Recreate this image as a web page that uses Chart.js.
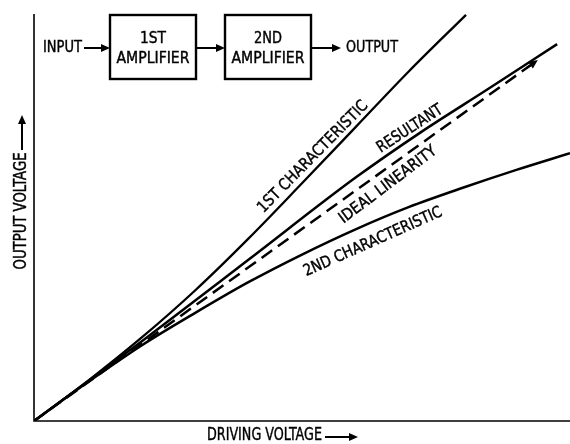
<!DOCTYPE html>
<html>
<head>
<meta charset="utf-8">
<script src="https://cdn.jsdelivr.net/npm/chart.js@4.4.1/dist/chart.umd.min.js"></script>
<style>
  html, body { margin: 0; padding: 0; background: #fff; }
  #wrap { width: 570px; height: 444px; }
</style>
</head>
<body>
<div id="wrap"><canvas id="grafico" width="570" height="444"></canvas></div>
<script>
// driving voltage and output voltage, both in % of full scale
const x1st = [0, 10, 20, 30, 40, 50, 60, 70, 80.6];
const y1st = [0, 9.8, 20.4, 32.0, 44.8, 58.4, 72.2, 86.0, 99.8];

const xResult = [0, 20, 40, 60, 72, 85, 97.6];
const yResult = [0, 19.5, 39.6, 59.8, 70.8, 81.8, 92.6];

const xIdeal = [0, 94.0];
const yIdeal = [0, 88.7];

const x2nd = [0, 10, 20, 30, 40, 50, 60, 70, 80, 90, 100];
const y2nd = [0, 9.5, 18.5, 26.5, 34.1, 40.9, 47.1, 52.6, 57.3, 61.7, 65.8];

const FONT = '"Liberation Sans Narrow", "DejaVu Sans Condensed", "Liberation Sans", sans-serif';

function pontos(xs, ys) {
    return xs.map((x, i) => ({ x: x, y: ys[i] }));
}

function seta(ctx, x1, y1, x2, y2, lw) {
    const a = Math.atan2(y2 - y1, x2 - x1);
    const len = 9, half = 4;
    ctx.save();
    ctx.strokeStyle = '#000';
    ctx.fillStyle = '#000';
    ctx.lineWidth = lw || 2;
    ctx.beginPath();
    ctx.moveTo(x1, y1);
    ctx.lineTo(x2 - len * Math.cos(a), y2 - len * Math.sin(a));
    ctx.stroke();
    ctx.beginPath();
    ctx.moveTo(x2, y2);
    ctx.lineTo(x2 - len * Math.cos(a) - half * Math.sin(a), y2 - len * Math.sin(a) + half * Math.cos(a));
    ctx.lineTo(x2 - len * Math.cos(a) + half * Math.sin(a), y2 - len * Math.sin(a) - half * Math.cos(a));
    ctx.closePath();
    ctx.fill();
    ctx.restore();
}

function texto(ctx, str, x, y, size, ang, maxW, align) {
    ctx.save();
    ctx.translate(x, y);
    ctx.rotate(ang * Math.PI / 180);
    ctx.font = size + 'px ' + FONT;
    ctx.fillStyle = '#000';
    ctx.strokeStyle = '#000';
    ctx.lineWidth = 0.4;
    ctx.textAlign = align || 'center';
    ctx.textBaseline = 'middle';
    ctx.fillText(str, 0, 0, maxW);
    ctx.strokeText(str, 0, 0, maxW);
    ctx.restore();
}

const anotacoes = {
    id: 'anotacoes',
    beforeDatasetsDraw(chart) {
        const ctx = chart.ctx;
        const a = chart.chartArea;
        ctx.save();
        ctx.strokeStyle = '#000';
        ctx.lineWidth = 1.6;
        ctx.beginPath();
        ctx.moveTo(a.left, a.top);
        ctx.lineTo(a.left, a.bottom);
        ctx.lineTo(a.right, a.bottom);
        ctx.stroke();
        ctx.restore();
    },
    afterDatasetsDraw(chart) {
        const ctx = chart.ctx;

        // block diagram
        ctx.save();
        ctx.strokeStyle = '#000';
        ctx.lineWidth = 2.4;
        ctx.strokeRect(110, 15, 86, 64);
        ctx.strokeRect(225, 15, 86, 64);
        ctx.restore();
        texto(ctx, 'INPUT', 43, 48, 16, 0, 39, 'left');
        seta(ctx, 84, 48, 110, 48);
        texto(ctx, '1ST', 153, 39, 16, 0, 26);
        texto(ctx, 'AMPLIFIER', 153, 59, 16, 0, 73);
        seta(ctx, 196, 48, 225, 48);
        texto(ctx, '2ND', 268, 39, 16, 0, 28);
        texto(ctx, 'AMPLIFIER', 268, 59, 16, 0, 73);
        seta(ctx, 311, 48, 341, 48);
        texto(ctx, 'OUTPUT', 346, 48, 16, 0, 52, 'left');

        // axis titles
        texto(ctx, 'DRIVING VOLTAGE', 207, 436, 17, 0, 115, 'left');
        seta(ctx, 325, 437, 358, 437);
        texto(ctx, 'OUTPUT VOLTAGE', 22, 211, 17, -90, 117);
        seta(ctx, 22, 150, 22, 115);

        // curve labels
        texto(ctx, '1ST CHARACTERISTIC', 313, 157, 16, -45.5, 150);
        texto(ctx, 'RESULTANT', 410, 129, 16, -33, 75);
        texto(ctx, 'IDEAL LINEARITY', 388, 185, 16, -37, 118);
        texto(ctx, '2ND CHARACTERISTIC', 373, 242, 16, -24, 150);

        // arrow head at the end of the ideal linearity line
        const meta = chart.getDatasetMeta(2);
        const p0 = meta.data[0], p1 = meta.data[meta.data.length - 1];
        const ang = Math.atan2(p1.y - p0.y, p1.x - p0.x);
        seta(ctx, p1.x - 14 * Math.cos(ang), p1.y - 14 * Math.sin(ang), p1.x, p1.y, 2);
    }
};

const ctx = document.getElementById('grafico').getContext('2d');

new Chart(ctx, {
    type: 'line',
    data: {
        datasets: [
            {
                label: '1st characteristic',
                data: pontos(x1st, y1st),
                borderColor: '#000',
                borderWidth: 2.3,
                cubicInterpolationMode: 'monotone'
            },
            {
                label: 'Resultant',
                data: pontos(xResult, yResult),
                borderColor: '#000',
                borderWidth: 2.5,
                cubicInterpolationMode: 'monotone'
            },
            {
                label: 'Ideal linearity',
                data: pontos(xIdeal, yIdeal),
                borderColor: '#000',
                borderWidth: 2.5,
                borderDash: [13, 7]
            },
            {
                label: '2nd characteristic',
                data: pontos(x2nd, y2nd),
                borderColor: '#000',
                borderWidth: 2.5,
                cubicInterpolationMode: 'monotone'
            }
        ]
    },
    options: {
        responsive: false,
        animation: false,
        layout: { padding: { left: 34, top: 14, right: 0, bottom: 23 } },
        elements: { point: { radius: 0 } },
        plugins: {
            legend: { display: false },
            tooltip: { enabled: false }
        },
        scales: {
            x: { type: 'linear', min: 0, max: 100, display: false },
            y: { type: 'linear', min: 0, max: 100, display: false }
        }
    },
    plugins: [anotacoes]
});
</script>
</body>
</html>
